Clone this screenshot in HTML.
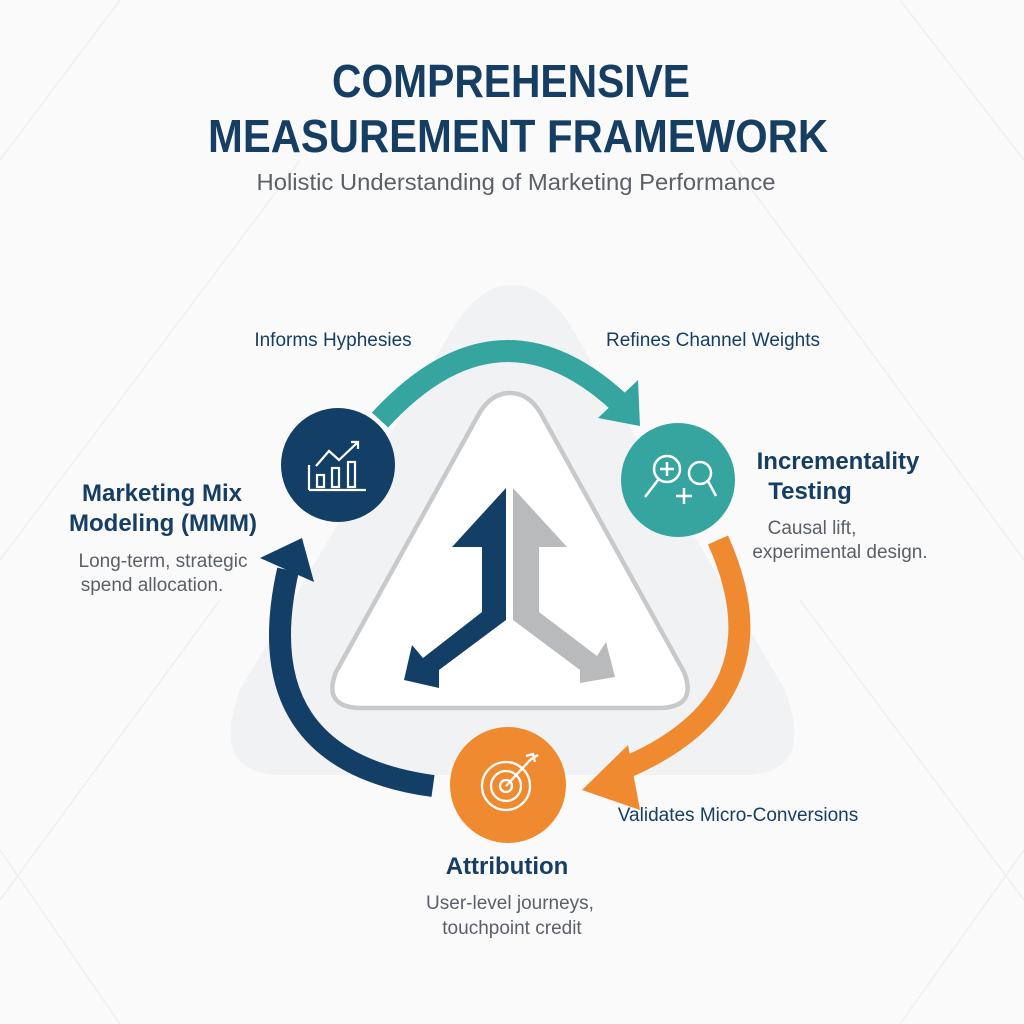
<!DOCTYPE html>
<html><head><meta charset="utf-8"><style>
html,body{margin:0;padding:0;background:#fafafa;}
svg{display:block}
text{font-family:"Liberation Sans Narrow","Liberation Sans",sans-serif;}
</style></head><body>
<svg width="1024" height="1024" viewBox="0 0 1024 1024" xmlns="http://www.w3.org/2000/svg">
<rect width="1024" height="1024" fill="#fafafa"/>
<g stroke="#eeeff0" stroke-width="1.5" fill="none">
<path d="M0 160 L120 0 M0 560 L300 160 M1024 160 L900 0 M1024 560 L730 160 M0 900 L220 600 M1024 900 L800 600 M120 1024 L0 850 M900 1024 L1024 850"/>
</g>
<path d="M512 285 Q545 285 570 325 L785 690 Q815 770 750 775 L275 775 Q210 770 240 690 L455 325 Q480 285 512 285Z" fill="#f1f2f3"/>
<path d="M510 393 Q528 393 540 412 L684 672 Q698 708 658 708 L362 708 Q322 708 336 672 L480 412 Q492 393 510 393Z" fill="#fff" stroke="#c8c9cb" stroke-width="4.5"/>
<g fill="#163e63" font-weight="bold" font-size="46" text-anchor="middle">
<text x="511" y="97" textLength="358" lengthAdjust="spacingAndGlyphs">COMPREHENSIVE</text>
<text x="518" y="152" textLength="620" lengthAdjust="spacingAndGlyphs">MEASUREMENT FRAMEWORK</text>
</g>
<text x="516" y="190" font-size="23" fill="#5b6068" text-anchor="middle" textLength="519" lengthAdjust="spacingAndGlyphs">Holistic Understanding of Marketing Performance</text>
<!-- teal arc -->
<path d="M380 420 Q500 290 622 405" fill="none" stroke="#36a59f" stroke-width="22"/>
<polygon points="598,418 638,380 640,426" fill="#36a59f"/>
<!-- orange arc -->
<path d="M718 540 Q790 700 620 770" fill="none" stroke="#f08a30" stroke-width="22"/>
<polygon points="628,745 582,790 640,810" fill="#f08a30"/>
<!-- navy arc -->
<path d="M433 786 Q245 760 288 570" fill="none" stroke="#133f66" stroke-width="22"/>
<polygon points="260,558 302,538 314,582" fill="#133f66"/>
<!-- center arrows -->
<polygon points="506,488 506,620 439,670 439,688 404,680 412,645 423,658 482,612 482,547 452,547" fill="#133f66"/>
<polygon points="513,488 513,620 580,670 580,683 615,677 606,642 597,656 539,612 539,547 567,547" fill="#b9babc"/>
<circle cx="338" cy="465" r="57" fill="#133f66"/>
<circle cx="678" cy="480" r="57" fill="#36a59f"/>
<circle cx="508" cy="785" r="58" fill="#f08a30"/>
<g stroke="#fff" stroke-width="2.2" fill="none">
<path d="M309 490 V465 M309 490 H366"/>
<rect x="317" y="475" width="7" height="12"/><rect x="332" y="468" width="7" height="19"/><rect x="348" y="462" width="7" height="25"/>
<path d="M316 466 L329 451 L339 460 L358 442 M351 442 H358 V449"/>
</g>
<g stroke="#fff" stroke-width="2.5" fill="none">
<circle cx="667" cy="469" r="13"/><path d="M667 462 V476 M660 469 H674"/>
<circle cx="700" cy="473" r="11"/>
<path d="M658 480 L645 497 M708 481 L716 496"/>
<path d="M684 488 V504 M676 496 H692"/>
</g>
<g stroke="#fff" stroke-width="2.3" fill="none">
<circle cx="506" cy="786" r="24"/><circle cx="506" cy="786" r="15"/><circle cx="506" cy="786" r="6"/>
<path d="M506 786 L532 758 M526 756 L533 754 L535 762 M530 760 L538 755"/>
</g>
<g fill="#163e63" font-size="19" text-anchor="middle">
<text x="333" y="346">Informs Hyphesies</text>
<text x="713" y="346">Refines Channel Weights</text>
<text x="738" y="821">Validates Micro-Conversions</text>
</g>
<g fill="#163e63" font-size="24" font-weight="bold" text-anchor="middle">
<text x="162" y="501">Marketing Mix</text>
<text x="163" y="531">Modeling (MMM)</text>
<text x="838" y="469">Incrementality</text>
<text x="810" y="499">Testing</text>
<text x="507" y="874">Attribution</text>
</g>
<g fill="#5b6068" font-size="19" text-anchor="middle">
<text x="163" y="567">Long-term, strategic</text>
<text x="152" y="591">spend allocation.</text>
<text x="812" y="534">Causal lift,</text>
<text x="840" y="558">experimental design.</text>
<text x="510" y="909">User-level journeys,</text>
<text x="512" y="934">touchpoint credit</text>
</g>
</svg>
</body></html>
